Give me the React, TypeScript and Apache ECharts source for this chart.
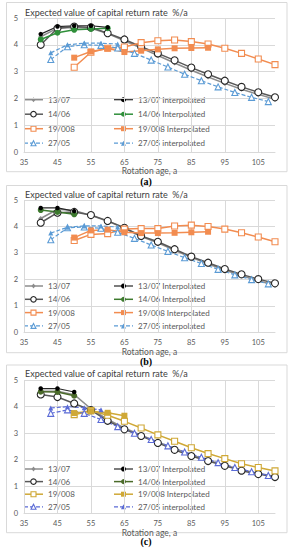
import React, { useEffect, useRef } from 'react';
import * as echarts from 'echarts';

// ---------- data ----------
const AGE_FULL = [40, 45, 50, 55, 60, 65, 70, 75, 80, 85, 90, 95, 100, 105, 110];
const AGE_FROM_50 = [50, 55, 60, 65, 70, 75, 80, 85, 90, 95, 100, 105, 110];
const AGE_INT_40_60 = [40, 45, 50, 55, 60];
const AGE_INT_40_50 = [40, 45, 50];
const AGE_INT_50_90 = [50, 55, 60, 65, 70, 75, 80, 85, 90];
const AGE_INT_50_65 = [50, 55, 60, 65];
const AGE_2705 = [43, 48, 53, 58, 63, 68, 73, 78, 83, 88, 93, 98, 103, 108];
const AGE_2705_INT_A = [43, 48, 53, 58, 63];
const AGE_2705_INT_C = [43, 48, 53, 58];

// panel (a)
const A_1307 = [4.3, 4.62, 4.65, 4.62, 4.42, 4.15, 3.88, 3.6, 3.32, 3.05, 2.8, 2.56, 2.34, 2.15, 1.97];
const A_1307_INT = [4.4, 4.68, 4.71, 4.71, 4.65];
const A_1406 = [4.0, 4.62, 4.68, 4.65, 4.43, 4.2, 3.93, 3.68, 3.42, 3.15, 2.9, 2.66, 2.43, 2.23, 2.04];
const A_1406_INT = [4.2, 4.45, 4.56, 4.59, 4.62];
const A_19008 = [3.16, 3.72, 3.87, 3.92, 4.08, 4.15, 4.18, 4.12, 4.03, 3.87, 3.68, 3.47, 3.26];
const A_19008_INT = [3.52, 3.75, 3.86, 3.73, 3.78, 3.83, 3.87, 3.88, 3.89];
const A_2705 = [3.45, 3.93, 4.0, 3.98, 3.88, 3.68, 3.43, 3.17, 2.9, 2.66, 2.43, 2.22, 2.04, 1.88];
const A_2705_INT = [3.7, 4.0, 4.06, 4.06, 4.03];

// panel (b)
const B_1307 = [4.3, 4.65, 4.6, 4.42, 4.2, 3.93, 3.62, 3.38, 3.1, 2.83, 2.58, 2.35, 2.14, 1.95, 1.78];
const B_1307_INT = [4.7, 4.7, 4.58];
const B_1406 = [4.14, 4.52, 4.55, 4.43, 4.21, 3.95, 3.64, 3.42, 3.14, 2.86, 2.63, 2.39, 2.19, 2.01, 1.85];
const B_1406_INT = [4.62, 4.55, 4.46];
const B_19008 = [3.47, 3.7, 3.73, 3.9, 3.92, 3.92, 4.02, 4.05, 4.0, 3.9, 3.76, 3.6, 3.42];
const B_19008_INT = [3.58, 3.85, 3.88, 3.78, 3.75, 3.75, 3.76, 3.78, 3.8];
const B_2705 = [3.5, 3.95, 3.98, 3.93, 3.78, 3.55, 3.3, 3.06, 2.82, 2.6, 2.38, 2.17, 1.99, 1.83];
const B_2705_INT = [3.75, 3.97, 4.02, 4.02, 3.98];

// panel (c)
const C_1307 = [4.58, 4.58, 4.45, 3.92, 3.52, 3.2, 2.93, 2.68, 2.43, 2.2, 1.99, 1.8, 1.63, 1.5, 1.38];
const C_1307_INT = [4.68, 4.68, 4.55];
const C_1406 = [4.46, 4.36, 4.12, 3.87, 3.47, 3.15, 2.9, 2.64, 2.38, 2.15, 1.96, 1.78, 1.6, 1.47, 1.36];
const C_1406_INT = [4.56, 4.55, 4.41];
const C_19008 = [3.7, 3.85, 3.68, 3.45, 3.2, 2.94, 2.7, 2.46, 2.24, 2.05, 1.86, 1.72, 1.59];
const C_19008_INT = [3.76, 3.83, 3.77, 3.66];
const C_2705 = [3.75, 3.88, 3.75, 3.52, 3.25, 3.0, 2.77, 2.53, 2.3, 2.1, 1.9, 1.72, 1.56, 1.42];
const C_2705_INT = [3.95, 4.0, 3.96, 3.88];

const X_TICKS = [35, 45, 55, 65, 75, 85, 95, 105];
const TITLE = 'Expected value of capital return rate  %/a';
const X_NAME = 'Rotation age, a';
const CAPTIONS = ['(a)', '(b)', '(c)'];
const NAMES = ['13/07', '13/07 Interpolated', '14/06', '14/06 Interpolated', '19/008', '19/008 Interpolated', '27/05', '27/05 interpolated'];

// per panel: [ages, values] for each of the 8 series, in NAMES order
const PANEL_DATA = [
  [[AGE_FULL, A_1307], [AGE_INT_40_60, A_1307_INT], [AGE_FULL, A_1406], [AGE_INT_40_60, A_1406_INT], [AGE_FROM_50, A_19008], [AGE_INT_50_90, A_19008_INT], [AGE_2705, A_2705], [AGE_2705_INT_A, A_2705_INT]],
  [[AGE_FULL, B_1307], [AGE_INT_40_50, B_1307_INT], [AGE_FULL, B_1406], [AGE_INT_40_50, B_1406_INT], [AGE_FROM_50, B_19008], [AGE_INT_50_90, B_19008_INT], [AGE_2705, B_2705], [AGE_2705_INT_A, B_2705_INT]],
  [[AGE_FULL, C_1307], [AGE_INT_40_50, C_1307_INT], [AGE_FULL, C_1406], [AGE_INT_40_50, C_1406_INT], [AGE_FROM_50, C_19008], [AGE_INT_50_65, C_19008_INT], [AGE_2705, C_2705], [AGE_2705_INT_C, C_2705_INT]],
];

// ---------- layout / style ----------
const LAYOUT = [
  { plotTop: 18, plotH: 134, boxTop: 2.5, boxBottom: 171.7, titleTop: 8, caption: 181.5, legRow0: 99.7, legStep: 14.5 },
  { plotTop: 200, plotH: 132.3, boxTop: 185.5, boxBottom: 352.7, titleTop: 190, caption: 361, legRow0: 286, legStep: 13.3 },
  { plotTop: 380, plotH: 133.3, boxTop: 365, boxBottom: 532.7, titleTop: 369, caption: 541.7, legRow0: 469, legStep: 12.6 },
];
const COLORS = [
  { green: '#2f8f3a', orange: '#F28C50', blue: '#5B9BD5' },
  { green: '#3d7a2e', orange: '#F28C50', blue: '#5B9BD5' },
  { green: '#4b6b2a', orange: '#CFA836', blue: '#5B6BD6' },
];
const FONT = 'Lato, "Open Sans", sans-serif';
const TXT = '#595959';
const GRID = '#d9d9d9';
const DASH = [4, 2];

function styles(col: any) {
  // symbol, size (plot), line color, line width, dashed, fill, stroke
  return [
    { sym: 'diamond', size: 5, line: '#8c8c8c', w: 1.5, dash: false, fill: '#8c8c8c', stroke: null },
    { sym: 'circle', size: 4.5, line: '#262626', w: 1.2, dash: false, fill: '#000000', stroke: null },
    { sym: 'circle', size: 7, line: '#595959', w: 1.5, dash: false, fill: '#ffffff', stroke: '#262626' },
    { sym: 'circle', size: 6, line: col.green, w: 1.5, dash: false, fill: col.green, stroke: null },
    { sym: 'rect', size: 6, line: col.orange, w: 1.5, dash: false, fill: '#ffffff', stroke: col.orange },
    { sym: 'rect', size: 6, line: col.orange, w: 1.5, dash: false, fill: col.orange, stroke: null },
    { sym: 'triangle', size: 6, line: col.blue, w: 1.2, dash: true, fill: '#ffffff', stroke: col.blue },
    { sym: 'triangle', size: 5, line: col.blue, w: 1.2, dash: true, fill: col.blue, stroke: null },
  ];
}

const pairs = (xs: number[], ys: number[]) => xs.map((x, i) => [x, ys[i]]);

function legendSymbol(sym: string, cx: number, cy: number, s: number, style: any) {
  const h = s / 2;
  if (sym === 'circle') return { type: 'circle', shape: { cx, cy, r: h }, style };
  if (sym === 'rect') return { type: 'rect', shape: { x: cx - h, y: cy - h, width: s, height: s }, style };
  if (sym === 'diamond') return { type: 'polygon', shape: { points: [[cx, cy - h], [cx + h * 0.8, cy], [cx, cy + h], [cx - h * 0.8, cy]] }, style };
  return { type: 'polygon', shape: { points: [[cx, cy - h], [cx + h, cy + h], [cx - h, cy + h]] }, style };
}

function buildOption() {
  const grids: any[] = [];
  const xAxes: any[] = [];
  const yAxes: any[] = [];
  const titles: any[] = [];
  const series: any[] = [];
  const graphics: any[] = [];

  LAYOUT.forEach((L, i) => {
    const st = styles(COLORS[i]);
    const d = PANEL_DATA[i];
    grids.push({ left: 24, width: 251, top: L.plotTop, height: L.plotH, containLabel: false, outerBoundsMode: 'none' });
    xAxes.push({
      type: 'value', gridIndex: i, min: X_TICKS[0], max: 110, interval: 10,
      name: X_NAME, nameLocation: 'middle', nameGap: 10,
      nameTextStyle: { fontFamily: FONT, fontSize: 8.5, color: TXT },
      axisLine: { show: true, lineStyle: { color: GRID, width: 1 } },
      axisTick: { show: false },
      axisLabel: { fontFamily: FONT, fontSize: 7.5, color: TXT, margin: 6, showMaxLabel: false,
        formatter: (v: number) => (X_TICKS.includes(v) ? String(v) : '') },
      splitLine: { show: true, showMaxLine: false, lineStyle: { color: GRID, width: 1 } },
    });
    yAxes.push({
      type: 'value', gridIndex: i, min: 0, max: 5, interval: 1,
      axisLine: { show: false }, axisTick: { show: false },
      axisLabel: { fontFamily: FONT, fontSize: 7.5, color: TXT, margin: 6 },
      splitLine: { show: true, lineStyle: { color: GRID, width: 1 } },
    });
    titles.push({
      text: TITLE, left: 25, top: L.titleTop, padding: 0,
      textStyle: { fontFamily: FONT, fontSize: 9, fontWeight: 'normal', color: '#404040' },
    });

    // draw order: grey, open circles, orange, blue, green, black on top
    const order = [0, 2, 4, 5, 6, 7, 3, 1];
    order.forEach((k) => {
      const s = st[k];
      series.push({
        type: 'line', name: NAMES[k] + '#' + i, xAxisIndex: i, yAxisIndex: i,
        data: pairs(d[k][0] as number[], d[k][1] as number[]),
        symbol: s.sym, symbolSize: s.size,
        lineStyle: { color: s.line, width: s.w, type: s.dash ? DASH : 'solid' },
        itemStyle: s.stroke ? { color: s.fill, borderColor: s.stroke, borderWidth: 1.1 } : { color: s.fill },
      });
    });

    // legend (two columns of four rows)
    NAMES.forEach((name, k) => {
      const s = st[k];
      const colIdx = k % 2;
      const row = Math.floor(k / 2);
      const x0 = colIdx === 0 ? 24 : 114;
      const y = L.legRow0 + row * L.legStep;
      graphics.push({
        type: 'line', silent: true,
        shape: { x1: x0, y1: y, x2: x0 + 19, y2: y },
        style: { stroke: s.line, lineWidth: s.w, lineDash: s.dash ? DASH : null },
      });
      const symSize = s.sym === 'circle' && s.stroke ? 5.5 : s.sym === 'diamond' ? 5 : 5;
      graphics.push({
        ...legendSymbol(s.sym, x0 + 9.5, y, symSize,
          s.stroke ? { fill: s.fill, stroke: s.stroke, lineWidth: 1.1 } : { fill: s.fill }),
        silent: true,
      });
      graphics.push({
        type: 'text', silent: true, x: x0 + 24, y,
        style: { text: name, verticalAlign: 'middle', align: 'left', fontFamily: FONT, fontSize: 8, fill: TXT },
      });
    });

    graphics.push({
      type: 'rect', silent: true, z: -10,
      shape: { x: 6.5, y: L.boxTop, width: 280.5, height: L.boxBottom - L.boxTop },
      style: { fill: 'none', stroke: GRID, lineWidth: 1 },
    });
    graphics.push({
      type: 'text', silent: true, x: 146, y: L.caption,
      style: { text: CAPTIONS[i], align: 'center', verticalAlign: 'middle', fontFamily: '"Liberation Serif", serif', fontWeight: 'bold', fontSize: 10, fill: '#000' },
    });
  });

  return {
    animation: false,
    backgroundColor: '#ffffff',
    grid: grids, xAxis: xAxes, yAxis: yAxes, title: titles, series, graphic: graphics,
  };
}

export default function App() {
  const ref = useRef<HTMLDivElement>(null);
  useEffect(() => {
    document.body.style.margin = '0';
    if (!ref.current) return;
    const chart = echarts.init(ref.current, undefined, { renderer: 'svg' });
    chart.setOption(buildOption() as any);
    return () => chart.dispose();
  }, []);
  return <div ref={ref} style={{ width: 295, height: 550 }} />;
}
